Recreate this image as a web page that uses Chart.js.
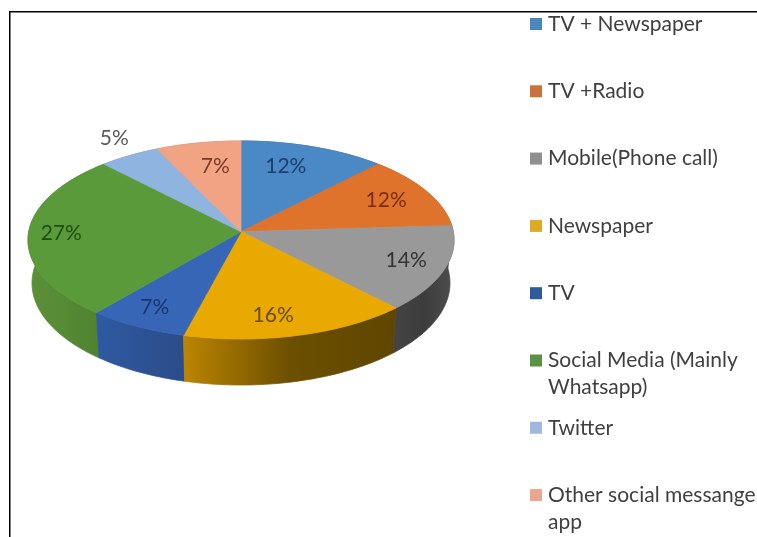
<!DOCTYPE html>
<html>
<head>
<meta charset="utf-8">
<title>Communication channels</title>
<script src="https://cdn.jsdelivr.net/npm/chart.js@4"></script>
<style>
  html, body { margin: 0; padding: 0; background: #ffffff; }
  canvas { display: block; }
</style>
</head>
<body>
<canvas id="pie" width="757" height="537"></canvas>
<script>
// Channel shares, in percent, clockwise from twelve o'clock.
const categories = [
  'TV + Newspaper',
  'TV +Radio',
  'Mobile(Phone call)',
  'Newspaper',
  'TV',
  ['Social Media (Mainly', 'Whatsapp)'],
  'Twitter',
  ['Other social messange', 'app']
];
const shares = [12, 12, 14, 16, 7, 27, 5, 7];

const topColors = ['#4a88c6', '#e0732c', '#999999', '#e9a900', '#3766b6', '#5a9a3a', '#90b4e0', '#f2a384'];
const legendColors = ['#4a88bc', '#c9733c', '#8f8f8f', '#dcaa24', '#2f5a9c', '#5c9244', '#a0b8e0', '#eaa68e'];
const labelColors = ['#1c3f70', '#7a2c10', '#333333', '#6a4a05', '#1a3672', '#1d4f14', '#595959', '#7a3a28'];

// Wall shading per slice: colour at the left end, middle and right end of its arc.
const wallShades = [
  ['#3a6a9c', '#3a6a9c', '#3a6a9c'],
  ['#a85420', '#a85420', '#a85420'],
  ['#454545', '#3c3c3c', '#4e4e4e'],
  ['#bd8500', '#6c4f00', '#5f4600'],
  ['#2e5aa2', '#2d5395', '#2b4c88'],
  ['#5b8f38', '#568a35', '#4f802f'],
  ['#6d8db5', '#6d8db5', '#6d8db5'],
  ['#c08068', '#c08068', '#c08068']
];

// Nudges of the percentage labels away from the point 70% along each slice.
const labelNudges = [[-7, -5], [14, -3], [24, 3], [-7, 13], [-15, 11], [-31, -1], [-47, -39], [5, -2]];

const legendRowStart = 24;
const legendRowStep = 67.3;
const legendLineStep = 27;
const legendFont = '21px Lato, sans-serif';
const labelFont = '21px Lato, sans-serif';

// Camera model of the tilted disc.
const tilt = 99 / 213;        // vertical squash of the top face
const lean = -0.084;          // perspective: the near edge looks larger
const lean2 = Math.sqrt(1 - lean * lean);
const baseDrop = 43;          // how far below the top face the base ellipse is centred
const baseWidth = 209 / 213;  // the base looks slightly narrower
const baseTilt = 102 / 213;

function project(arc, angle, r, base) {
  const u = r * Math.cos(angle);
  const v = r * Math.sin(angle);
  const d = 1 + lean * v;
  const R = arc.outerRadius;
  const xs = base ? baseWidth : 1;
  const ys = base ? baseTilt : tilt;
  return {
    x: arc.x + R * xs * u * lean2 / d,
    y: arc.y + (base ? baseDrop : 0) + R * ys * (v + lean) / d
  };
}

function rimPoints(arc, base) {
  const steps = Math.max(4, Math.ceil((arc.endAngle - arc.startAngle) / 0.02));
  const pts = [];
  for (let i = 0; i <= steps; i++) {
    pts.push(project(arc, arc.startAngle + (arc.endAngle - arc.startAngle) * i / steps, 1, base));
  }
  return pts;
}

function tracePoints(ctx, pts) {
  pts.forEach(p => ctx.lineTo(p.x, p.y));
}

// Draws the pie's arc elements as a tilted disc with a visible wall.
const tiltedDisc = {
  id: 'tiltedDisc',
  beforeDatasetDraw(chart, args) {
    const ctx = chart.ctx;
    const arcs = args.meta.data;
    const order = arcs.map((a, i) => i).sort((p, q) =>
      Math.sin((arcs[p].startAngle + arcs[p].endAngle) / 2) -
      Math.sin((arcs[q].startAngle + arcs[q].endAngle) / 2));

    order.forEach(i => {
      const top = rimPoints(arcs[i], false);
      const bottom = rimPoints(arcs[i], true);
      const xs = top.concat(bottom).map(p => p.x);
      const grad = ctx.createLinearGradient(Math.min(...xs), 0, Math.max(...xs), 0);
      grad.addColorStop(0, wallShades[i][0]);
      grad.addColorStop(0.5, wallShades[i][1]);
      grad.addColorStop(1, wallShades[i][2]);
      ctx.beginPath();
      tracePoints(ctx, top.concat(bottom.reverse()));
      ctx.closePath();
      ctx.fillStyle = grad;
      ctx.strokeStyle = grad;
      ctx.lineWidth = 0.8;
      ctx.fill();
      ctx.stroke();
    });

    arcs.forEach((arc, i) => {
      const apex = project(arc, 0, 0, false);
      ctx.beginPath();
      ctx.moveTo(apex.x, apex.y);
      tracePoints(ctx, rimPoints(arc, false));
      ctx.closePath();
      ctx.fillStyle = topColors[i];
      ctx.strokeStyle = topColors[i];
      ctx.lineWidth = 0.8;
      ctx.fill();
      ctx.stroke();
    });
    return false;
  },
  afterDatasetsDraw(chart) {
    const ctx = chart.ctx;
    const arcs = chart.getDatasetMeta(0).data;
    ctx.save();
    ctx.font = labelFont;
    ctx.textAlign = 'center';
    ctx.textBaseline = 'middle';
    arcs.forEach((arc, i) => {
      const p = project(arc, (arc.startAngle + arc.endAngle) / 2, 0.7, false);
      ctx.fillStyle = labelColors[i];
      ctx.fillText(shares[i] + '%', p.x + labelNudges[i][0], p.y + labelNudges[i][1]);
    });
    ctx.restore();
  }
};

// Legend column on the right, with wrapped entries, plus the frame rules.
const sideLegend = {
  id: 'sideLegend',
  afterDraw(chart) {
    const ctx = chart.ctx;
    ctx.save();
    ctx.fillStyle = '#000000';
    ctx.fillRect(9, 11, 748, 1.5);
    ctx.fillRect(9, 11, 1.5, 526);
    ctx.font = legendFont;
    ctx.textBaseline = 'middle';
    ctx.textAlign = 'left';
    chart.data.labels.forEach((label, i) => {
      const y = legendRowStart + legendRowStep * i;
      ctx.fillStyle = legendColors[i];
      ctx.fillRect(530, y - 6, 12, 12);
      ctx.fillStyle = '#404040';
      [].concat(label).forEach((line, k) => ctx.fillText(line, 548, y + k * legendLineStep));
    });
    ctx.restore();
  }
};

new Chart(document.getElementById('pie'), {
  type: 'pie',
  data: {
    labels: categories,
    datasets: [{
      data: shares,
      backgroundColor: topColors,
      borderWidth: 0,
      hoverOffset: 0,
      hoverBorderWidth: 0
    }]
  },
  options: {
    responsive: false,
    animation: false,
    events: [],
    layout: { padding: { left: 28, right: 303, top: 27, bottom: 84 } },
    plugins: { legend: { display: false }, tooltip: { enabled: false } }
  },
  plugins: [tiltedDisc, sideLegend]
});
</script>
</body>
</html>
